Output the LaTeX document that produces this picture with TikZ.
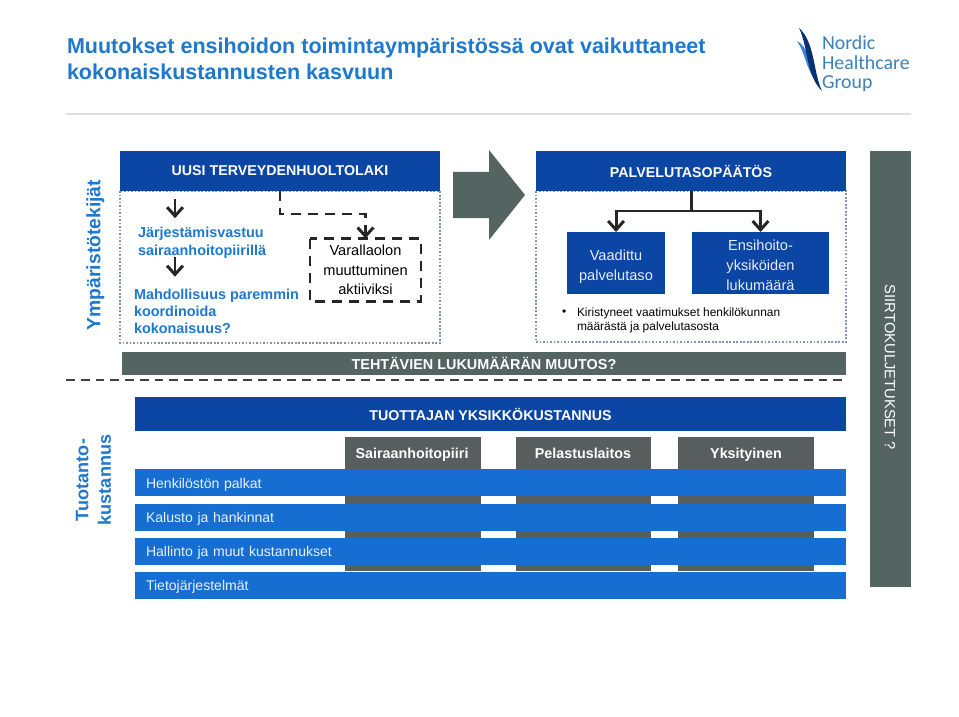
\documentclass[tikz,border=0pt]{standalone}
\usepackage{fontspec}
\setmainfont{Liberation Sans}
\newfontfamily\logofont{Carlito}
\usetikzlibrary{arrows.meta}
\definecolor{figSini}{RGB}{11,70,165}
\definecolor{figRivi}{RGB}{22,110,210}
\definecolor{figOtsikko}{RGB}{30,120,205}
\definecolor{figHarmaa}{RGB}{84,100,96}
\definecolor{figTumma}{RGB}{88,94,94}
\definecolor{figPiste}{RGB}{125,150,180}
\definecolor{figLogo}{RGB}{60,130,185}
\newcommand{\koko}[1]{\fontsize{#1}{#1}\selectfont}

\begin{document}
\begin{tikzpicture}[
  x=0.02cm, y=-0.02cm, every node/.style={inner sep=0pt, outer sep=0pt},
  otsikko/.style={fill=figSini, text=white, align=center, minimum height=0.8cm,
                  font=\koko{8.1}\bfseries},
  kehys/.style={draw=figPiste, line width=0.8pt, dash pattern=on 1pt off 1pt},
  palkki/.style={fill=figHarmaa, text=white, align=center, font=\koko{8.2}\bfseries},
  laatikko/.style={fill=figSini, text=white!90!figSini, align=center, font=\koko{8.3}},
  teksti/.style={text=figOtsikko, align=left, anchor=north west, font=\koko{8.2}\bfseries},
  sivu/.style={text=figOtsikko, align=center, rotate=90, font=\koko{11}\bfseries},
  sarake/.style={fill=figTumma, minimum width=2.72cm, minimum height=2.68cm, anchor=north},
  sarakenimi/.style={text=white, text height=6pt, text depth=1.8pt, font=\koko{8.15}\bfseries},
  rivi/.style={fill=figRivi, text=white!90!figRivi, minimum width=14.22cm, minimum height=0.54cm,
               anchor=north west, text width=13.78cm, align=left, text height=7.5pt, text depth=1pt,
               font=\koko{8}},
  fl/.style={-{Straight Barb[length=5pt,width=9pt]}, line width=1.7pt, black!85},
  dfl/.style={fl, dash pattern=on 5.7pt off 4pt}
]
\useasboundingbox (0,0) rectangle (959,716);

% Otsikko ja logo
\node[anchor=west, text=figOtsikko, align=left, font=\koko{12.25}\bfseries] (paaotsikko) at (67,59)
      {Muutokset ensihoidon toimintaympäristössä ovat vaikuttaneet\\[2.4pt]kokonaiskustannusten kasvuun};
\node[anchor=west, text=figLogo, align=left, font=\logofont\koko{11.3}] (logo) at (822,64)
      {Nordic\\[-0.3pt]Healthcare\\[-0.3pt]Group};
\fill[figRivi!85!white] (797,41) .. controls (807,46) and (811,62) .. (819,84)
      .. controls (806,72) and (806,54) .. (797,41);
\fill[figSini!70!black] (799,28) .. controls (815,42) and (813,72) .. (822,91)
      .. controls (806,76) and (808,46) .. (799,28);
\draw[black!12, line width=0.6pt] (66,114) -- (911,114);

% Ylaosa, kehykset ensin
\draw[kehys] (120,191) rectangle (440,343);
\draw[kehys] (536,191) rectangle (846,342);
\node[otsikko, minimum width=6.4cm] (laki) at (280,171) {UUSI TERVEYDENHUOLTOLAKI};
\node[otsikko, minimum width=6.2cm] (paatos) at (691,171) {PALVELUTASOPÄÄTÖS};
\fill[figHarmaa] (453,172) -- (489,172) -- (489,150) -- (525,195) -- (489,240) -- (489,218) -- (453,218) -- cycle;

\node[sivu] (ymparisto) at (95.5,255) {Ympäristötekijät};
\node[teksti] (jarjestamis) at (138,227) {Järjestämisvastuu\\[2.2pt]sairaanhoitopiirillä};
\node[teksti] (mahdollisuus) at (134,289) {Mahdollisuus paremmin\\[1.6pt]koordinoida\\[1.6pt]kokonaisuus?};
\node[align=center, minimum width=2.22cm, minimum height=1.26cm, font=\koko{8.3}] (varallaolo) at (365.5,270)
      {Varallaolon\\[2.8pt]muuttuminen\\[2.8pt]aktiiviksi};
\draw[black!85, line width=1.4pt, dash pattern=on 5.7pt off 4pt] (varallaolo.north west) rectangle (varallaolo.south east);

\coordinate (nuoli) at (175,0);
\coordinate (lahto) at (280,214);
\draw[fl, shorten <=4.5pt] (laki.south -| nuoli) -- ([yshift=5pt]jarjestamis.north -| nuoli);
\draw[fl] ([yshift=1pt]jarjestamis.south -| nuoli) -- ([yshift=7pt]mahdollisuus.north -| nuoli);
\draw[dfl] (laki.south -| lahto) -- (lahto) -| (varallaolo.north);

\node[laatikko, minimum width=1.96cm, minimum height=1.24cm] (vaadittu) at (616,263) {\rule{0pt}{10pt}Vaadittu\\[3pt]palvelutaso};
\node[laatikko, minimum width=2.74cm, minimum height=1.24cm] (ensihoito) at (760.5,263) {\rule{0pt}{9pt}Ensihoito-\\[3pt]yksiköiden\\[3pt]lukumäärä};
\draw[fl] (paatos.south) -- ++(0,20) -| (vaadittu.north);
\draw[fl] (paatos.south) -- ++(0,20) -| (ensihoito.north);
\node[anchor=west, font=\koko{6.8}] (luoti) at (562,313) {•};
\node[anchor=north west, align=left, font=\koko{6.8}] (kiristyneet) at (577,308)
      {Kiristyneet vaatimukset henkilökunnan\\[1.1pt]määrästä ja palvelutasosta};

\node[palkki, minimum width=14.48cm, minimum height=0.46cm] (tehtavat) at (484,363.5) {TEHTÄVIEN LUKUMÄÄRÄN MUUTOS?};
\draw[black!75, line width=1pt, dash pattern=on 5pt off 3.4pt] (66,380) -- (846,380);

% Alaosa
\node[otsikko, minimum width=14.22cm, minimum height=0.68cm] (tuottaja) at (490.5,414) {TUOTTAJAN YKSIKKÖKUSTANNUS};
\node[sivu, font=\koko{10.3}\bfseries] (tuotanto) at (93.5,480) {Tuotanto-\\[2.5pt]kustannus};

\node[sarake] (sairaanhoito) at (413,437) {};
\node[sarake] (pelastus) at (583.5,437) {};
\node[sarake] (yksityinen) at (746,437) {};
\node[sarakenimi] (sairaanhoitonimi) at (412,455) {Sairaanhoitopiiri};
\node[sarakenimi] (pelastusnimi) at (583,455) {Pelastuslaitos};
\node[sarakenimi] (yksityinennimi) at (746,455) {Yksityinen};

\node[rivi] (palkat) at (135,469) {Henkilöstön palkat};
\node[rivi] (kalusto) at (135,503.5) {Kalusto ja hankinnat};
\node[rivi] (hallinto) at (135,537.5) {Hallinto ja muut kustannukset};
\node[rivi] (tieto) at (135,571.5) {Tietojärjestelmät};

\node[palkki, minimum width=0.82cm, minimum height=8.72cm, anchor=north] (siirto) at (890.5,151) {};
\node[text=white, rotate=-90, font=\koko{8.4}] (siirtonimi) at (890,367.5) {SIIRTOKULJETUKSET ?};
\end{tikzpicture}
\end{document}
